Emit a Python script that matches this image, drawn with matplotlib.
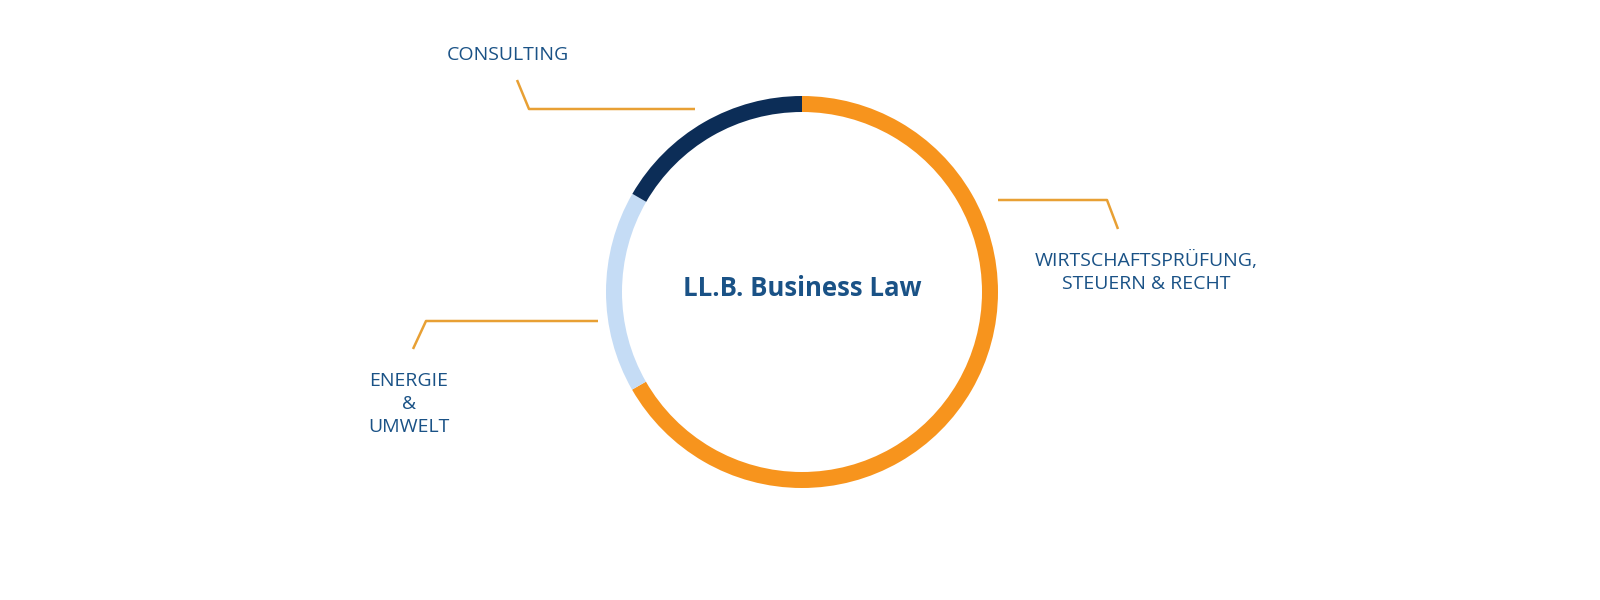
import matplotlib
matplotlib.use("Agg")
import matplotlib.pyplot as plt

# Study focus shares of the LL.B. Business Law programme
segments = ["WIRTSCHAFTSPRÜFUNG,\nSTEUERN & RECHT", "ENERGIE\n&\nUMWELT", "CONSULTING"]
shares = [66.7, 16.65, 16.65]
colors = ["#F7941D", "#C5DCF5", "#0C2D57"]

title = "LL.B. Business Law"
text_color = "#1A5286"
line_color = "#E8A034"

plt.rcParams["font.family"] = ["Open Sans", "DejaVu Sans"]

fig = plt.figure(figsize=(16, 6), dpi=100)
ax = fig.add_axes([0, 0, 1, 1])

cx, cy, r = 802, 600 - 292, 196
ax.pie(shares, colors=colors, startangle=90, counterclock=False,
       center=(cx, cy), radius=r, frame=True,
       wedgeprops=dict(width=16, linewidth=0))
ax.set_xlim(0, 1600)
ax.set_ylim(0, 600)
ax.set_aspect("equal")
ax.axis("off")

ax.text(cx, 600 - 289, title, ha="center", va="center", fontsize=18.5,
        fontweight="bold", color=text_color)

# leader lines (pixel coords, y from top)
def leader(xs, ys):
    ax.plot(xs, [600 - y for y in ys], color=line_color, lw=1.8,
            solid_capstyle="butt")

leader([517, 529, 695], [80, 109, 109])
leader([998, 1107, 1118], [200, 200, 229])
leader([413, 426, 598], [349, 321, 321])

label_kw = dict(ha="center", va="center", fontsize=14, color=text_color,
                linespacing=1.36)
ax.text(508, 600 - 55, segments[2], **label_kw)
ax.text(1146, 600 - 272, segments[0], **label_kw)
ax.text(409, 600 - 404, segments[1], **label_kw)

fig.savefig("out.png", dpi=100, facecolor="white")
